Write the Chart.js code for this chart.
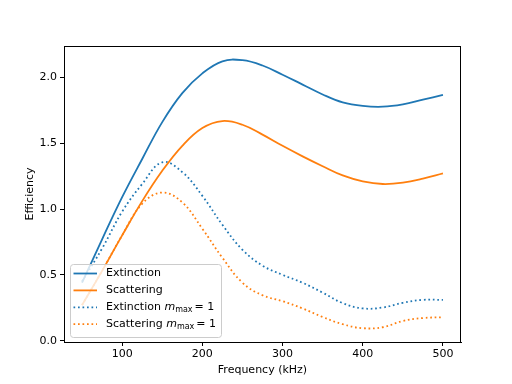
<!DOCTYPE html>
<html>
<head>
<meta charset="utf-8">
<script src="https://cdn.jsdelivr.net/npm/chart.js@4/dist/chart.umd.min.js"></script>
<style>
  html, body { margin: 0; padding: 0; background: #fff; }
  #wrap { width: 512px; height: 384px; }
</style>
</head>
<body>
<div id="wrap"><canvas id="grafico" width="512" height="384"></canvas></div>
<script>
// frequency (kHz)
const freq = [50, 75, 100, 125, 150, 175, 200, 225, 250, 275, 300, 325, 350, 375, 400, 425, 450, 475, 500];
const extinction = [0.44, 0.77, 1.09, 1.38, 1.66, 1.88, 2.03, 2.122, 2.13, 2.09, 2.02, 1.945, 1.87, 1.81, 1.783, 1.777, 1.795, 1.83, 1.866];
const scattering = [0.27, 0.53, 0.80, 1.06, 1.29, 1.48, 1.615, 1.668, 1.64, 1.565, 1.48, 1.40, 1.325, 1.255, 1.21, 1.19, 1.20, 1.23, 1.27];
const extinctionM1 = [0.45, 0.70, 0.98, 1.19, 1.355, 1.28, 1.10, 0.88, 0.69, 0.57, 0.50, 0.44, 0.365, 0.285, 0.245, 0.252, 0.288, 0.31, 0.31];
const scatteringM1 = [0.27, 0.53, 0.80, 1.04, 1.125, 1.05, 0.85, 0.63, 0.44, 0.345, 0.30, 0.245, 0.18, 0.125, 0.095, 0.102, 0.15, 0.172, 0.178];

const xTicks = [100, 200, 300, 400, 500];
const yTicks = [0, 0.5, 1.0, 1.5, 2.0];

const azul = "#1f77b4";
const laranja = "#ff7f0e";
const pontilhado = [1.7, 2.8];

function pares(valores) {
    return freq.map(function (f, i) { return { x: f, y: valores[i] }; });
}

const legendaItens = [
    { texto: "Extinction", cor: azul, dash: [], mmax: false },
    { texto: "Scattering", cor: laranja, dash: [], mmax: false },
    { texto: "Extinction ", cor: azul, dash: pontilhado, mmax: true },
    { texto: "Scattering ", cor: laranja, dash: pontilhado, mmax: true },
];

const moldura = {
    id: "moldura",
    afterDatasetsDraw: function (chart) {
        const ctx = chart.ctx;
        const a = chart.chartArea;
        ctx.save();
        ctx.strokeStyle = "#000";
        ctx.lineWidth = 1;
        ctx.strokeRect(Math.round(a.left) + 0.5, Math.round(a.top) + 0.5, Math.round(a.right - a.left) - 1, Math.round(a.bottom - a.top));

        // axis titles
        ctx.fillStyle = "#000";
        ctx.font = "11px 'DejaVu Sans'";
        ctx.textAlign = "center";
        ctx.textBaseline = "middle";
        ctx.fillText("Frequency (kHz)", (a.left + a.right) / 2, 370);
        ctx.translate(30, (a.top + a.bottom) / 2);
        ctx.rotate(-Math.PI / 2);
        ctx.fillText("Efficiency", 0, 0);
        ctx.restore();

        // legend
        ctx.save();
        const x0 = 70.5, y0 = 264.5, w = 151, h = 73;
        ctx.beginPath();
        ctx.roundRect(x0, y0, w, h, 3);
        ctx.fillStyle = "rgba(255,255,255,0.8)";
        ctx.fill();
        ctx.strokeStyle = "#cccccc";
        ctx.lineWidth = 1;
        ctx.stroke();
        legendaItens.forEach(function (item, i) {
            const y = 273.5 + i * 16.9;
            ctx.beginPath();
            ctx.setLineDash(item.dash);
            ctx.strokeStyle = item.cor;
            ctx.lineWidth = 1.8;
            ctx.moveTo(73.5, y);
            ctx.lineTo(97, y);
            ctx.stroke();
            ctx.setLineDash([]);
            ctx.fillStyle = "#000";
            ctx.textAlign = "left";
            ctx.textBaseline = "middle";
            ctx.font = "11px 'DejaVu Sans'";
            let x = 106;
            ctx.fillText(item.texto, x, y);
            if (item.mmax) {
                x += ctx.measureText(item.texto).width;
                ctx.font = "oblique 11px 'DejaVu Sans'";
                ctx.fillText("m", x, y);
                x += ctx.measureText("m").width;
                ctx.font = "8px 'DejaVu Sans'";
                ctx.fillText("max", x, y + 3);
                x += ctx.measureText("max").width + 2;
                ctx.font = "11px 'DejaVu Sans'";
                ctx.fillText("= 1", x, y);
            }
        });
        ctx.restore();
    },
};

function linha(rotulo, valores, cor, dash) {
    return {
        label: rotulo,
        data: pares(valores),
        borderColor: cor,
        backgroundColor: cor,
        borderWidth: 1.8,
        borderDash: dash,
        pointRadius: 0,
        fill: false,
        tension: 0.4,
    };
}

new Chart(document.getElementById("grafico").getContext("2d"), {
    type: "line",
    data: {
        datasets: [
            linha("Extinction", extinction, azul, []),
            linha("Scattering", scattering, laranja, []),
            linha("Extinction m_max = 1", extinctionM1, azul, pontilhado),
            linha("Scattering m_max = 1", scatteringM1, laranja, pontilhado),
        ],
    },
    options: {
        responsive: false,
        animation: false,
        layout: { padding: { top: 46, right: 51, left: 0, bottom: 0 } },
        plugins: {
            legend: { display: false },
            tooltip: { enabled: false },
        },
        scales: {
            x: {
                type: "linear",
                min: 27.5,
                max: 522.5,
                afterFit: function (s) { s.height = 42; },
                afterBuildTicks: function (s) { s.ticks = xTicks.map(function (v) { return { value: v }; }); },
                grid: { drawOnChartArea: false, drawTicks: true, tickLength: 4, color: "#000" },
                border: { display: true, color: "#000" },
                ticks: {
                    color: "#000",
                    padding: 2,
                    maxRotation: 0,
                    font: { family: "DejaVu Sans", size: 11 },
                },
            },
            y: {
                min: -0.01,
                max: 2.238,
                afterFit: function (s) { s.width = 64; },
                afterBuildTicks: function (s) { s.ticks = yTicks.map(function (v) { return { value: v }; }); },
                grid: { drawOnChartArea: false, drawTicks: true, tickLength: 4, color: "#000" },
                border: { display: true, color: "#000" },
                ticks: {
                    color: "#000",
                    padding: 3,
                    font: { family: "DejaVu Sans", size: 11 },
                    callback: function (v) { return Number(v).toFixed(1); },
                },
            },
        },
    },
    plugins: [moldura],
});
</script>
</body>
</html>
